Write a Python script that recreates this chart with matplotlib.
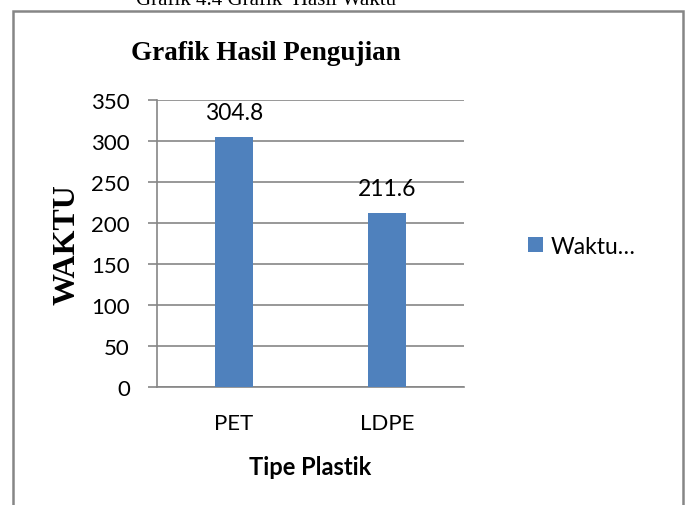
import matplotlib
matplotlib.use("Agg")
import matplotlib.pyplot as plt
from matplotlib.patches import Rectangle

categories = ["PET", "LDPE"]
values = [304.8, 211.6]
value_labels = ["304.8", "211.6"]
yticks = [0, 50, 100, 150, 200, 250, 300, 350]
series_name = "Waktu…"

W, H = 686, 506
fig = plt.figure(figsize=(W / 100, H / 100), dpi=100)
fig.patch.set_facecolor("white")

grey = "#868686"
bar_color = "#4F81BD"
sans = ["Lato", "DejaVu Sans"]
serif = ["Liberation Serif", "DejaVu Serif"]
fs = 16

# outer frame
fig.patches.append(Rectangle((13 / W, -0.05), (683 - 13) / W, 1.05 - 12 / H,
                             transform=fig.transFigure, fill=False,
                             edgecolor=grey, linewidth=1.8))

# caption at the top, partly cut off as in the reference
fig.text(266 / W, 1 - 5 / H, "Grafik 4.4 Grafik  Hasil Waktu", family=serif,
         fontsize=15, ha="center", va="baseline")

ax = fig.add_axes([157 / W, 1 - 388 / H, (464 - 157) / W, (388 - 101) / H])
x = list(range(len(categories)))
ax.bar(x, values, width=0.248, color=bar_color, zorder=3, label=series_name)
ax.set_xlim(-0.5, len(categories) - 0.5)
ax.set_ylim(0, 350)
ax.set_yticks(yticks)
ax.set_yticklabels([str(v) for v in yticks], family=sans, fontsize=fs)
ax.set_xticks(x)
ax.set_xticklabels(categories, family=sans, fontsize=fs)
ax.tick_params(axis="y", length=6.5, width=1.2, color=grey, pad=13)
ax.tick_params(axis="x", length=0, pad=19)
ax.grid(axis="y", color=grey, linewidth=1.2, zorder=0)
for s in ["top", "right"]:
    ax.spines[s].set_visible(False)
for s in ["left", "bottom"]:
    ax.spines[s].set_color(grey)
    ax.spines[s].set_linewidth(1.2)

for xi, v, lab in zip(x, values, value_labels):
    ax.annotate(lab, (xi, v), xytext=(0, 13), textcoords="offset points",
                ha="center", va="baseline", family=sans, fontsize=16.5, zorder=4)

ax.set_xlabel("Tipe Plastik", family=sans, fontsize=17, fontweight="bold")
ax.set_ylabel("WAKTU", family=serif, fontsize=23, fontweight="bold")
ax.yaxis.set_label_coords((67 - 157) / (464 - 157), 0.5)
ax.yaxis.label.set_va("center")
ax.xaxis.set_label_coords(0.5, -(468 - 388) / (388 - 101))
ax.xaxis.label.set_va("center")

fig.text(266 / W, 1 - 60 / H, "Grafik Hasil Pengujian", family=serif,
         fontsize=19.5, fontweight="bold", ha="center", va="baseline")

leg = fig.legend(loc="center left", bbox_to_anchor=(528 / W, 1 - 247 / H),
                 frameon=False, prop={"family": sans, "size": 16.5},
                 handlelength=0.65, handleheight=0.65, handletextpad=0.35,
                 borderpad=0, borderaxespad=0)

fig.savefig("out.png", dpi=100)
